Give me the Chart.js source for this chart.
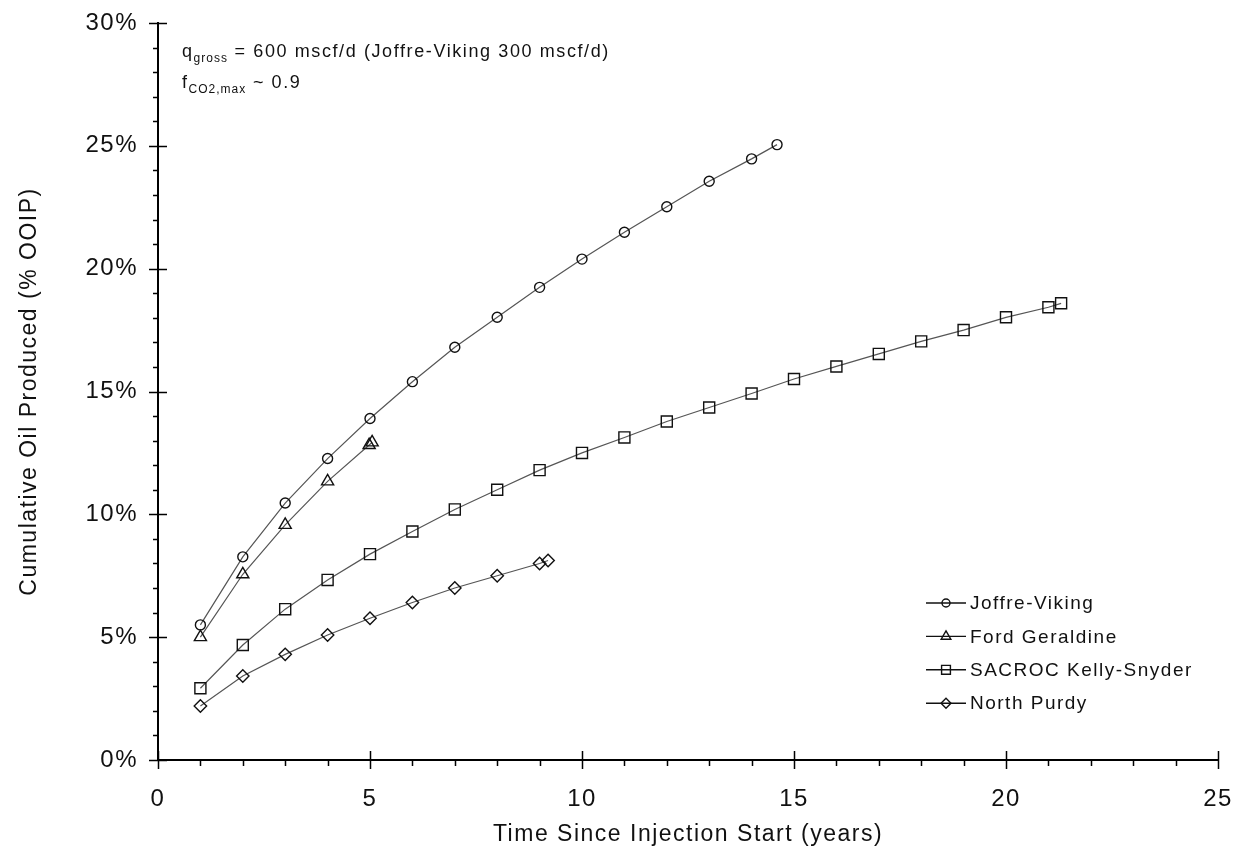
<!DOCTYPE html>
<html>
<head>
<meta charset="utf-8">
<script src="https://cdn.jsdelivr.net/npm/chart.js@4/dist/chart.umd.min.js"></script>
<style>
  html, body { margin: 0; padding: 0; background: #fff; }
  canvas { display: block; }
</style>
</head>
<body>
<canvas id="oilChart" width="1234" height="848"></canvas>
<script>
// years since injection start, cumulative oil produced (% OOIP)
const joffreYears = [1, 2, 3, 4, 5, 6, 7, 8, 9, 10, 11, 12, 13, 14, 14.6];
const joffreOil = [5.5, 8.27, 10.46, 12.27, 13.9, 15.4, 16.8, 18.02, 19.24, 20.39, 21.48, 22.52, 23.56, 24.47, 25.05];

const fordYears = [1, 2, 3, 4, 4.98, 5.05];
const fordOil = [5.0, 7.56, 9.57, 11.34, 12.82, 12.93];

const sacrocYears = [1, 2, 3, 4, 5, 6, 7, 8, 9, 10, 11, 12, 13, 14, 15, 16, 17, 18, 19, 20, 21, 21.3];
const sacrocOil = [2.92, 4.68, 6.14, 7.33, 8.38, 9.3, 10.2, 11.0, 11.8, 12.5, 13.13, 13.78, 14.35, 14.92, 15.51, 16.02, 16.53, 17.04, 17.5, 18.02, 18.43, 18.59];

const purdyYears = [1, 2, 3, 4, 5, 6, 7, 8, 9, 9.2];
const purdyOil = [2.2, 3.42, 4.3, 5.09, 5.77, 6.41, 7.0, 7.5, 8.0, 8.12];

const fieldNames = ['Joffre-Viking', 'Ford Geraldine', 'SACROC Kelly-Snyder', 'North Purdy'];
const fieldMarkers = ['circle', 'triangle', 'rect', 'rectRot'];
const markerSizes = [5, 7, 7.8, 6.2];

const xTicks = [0, 5, 10, 15, 20, 25];
const yTicks = [0, 5, 10, 15, 20, 25, 30];

const FONT = '"Liberation Sans", Arial, sans-serif';

function toPoints(xs, ys) {
  return xs.map((x, i) => ({ x: x, y: ys[i] }));
}

const seriesX = [joffreYears, fordYears, sacrocYears, purdyYears];
const seriesY = [joffreOil, fordOil, sacrocOil, purdyOil];

const datasets = fieldNames.map((name, i) => ({
  label: name,
  data: toPoints(seriesX[i], seriesY[i]),
  borderColor: '#555',
  borderWidth: 1.2,
  pointStyle: fieldMarkers[i],
  pointRadius: markerSizes[i],
  pointBorderColor: '#111',
  pointBorderWidth: 1.4,
  pointBackgroundColor: 'rgba(0,0,0,0)',
  tension: 0,
  fill: false
}));

// wider text spacing, like the original picture
const textSpacing = {
  id: 'textSpacing',
  beforeLayout(chart) { chart.ctx.letterSpacing = '1.5px'; },
  beforeDraw(chart) { chart.ctx.letterSpacing = '1.5px'; }
};

// tick marks: minor every unit, major every 5 crossing the axis
const axisTicks = {
  id: 'axisTicks',
  afterDraw(chart) {
    const ctx = chart.ctx;
    const xs = chart.scales.x, ys = chart.scales.y;
    const left = xs.left, bottom = ys.bottom;
    ctx.save();
    ctx.strokeStyle = '#000';
    ctx.lineWidth = 1.5;
    ctx.beginPath();
    for (let v = ys.min; v <= ys.max; v++) {
      const py = Math.round(ys.getPixelForValue(v)) + 0.5;
      const major = v % 5 === 0;
      ctx.moveTo(left - (major ? 9 : 5), py);
      ctx.lineTo(left + (major ? 9 : 0), py);
    }
    for (let v = xs.min; v <= xs.max; v++) {
      const px = Math.round(xs.getPixelForValue(v)) + 0.5;
      const major = v % 5 === 0;
      ctx.moveTo(px, bottom - (major ? 9 : 0));
      ctx.lineTo(px, bottom + (major ? 9 : 6));
    }
    ctx.stroke();
    ctx.restore();
  }
};

// note text in the upper left
const notes = {
  id: 'notes',
  afterDraw(chart) {
    const ctx = chart.ctx;
    const x0 = chart.chartArea.left + 24;
    ctx.save();
    ctx.fillStyle = '#111';
    ctx.textBaseline = 'alphabetic';
    const run = (parts, x, y) => {
      parts.forEach(p => {
        ctx.font = p[1] + 'px ' + FONT;
        ctx.letterSpacing = p[3] + 'px';
        ctx.fillText(p[0], x, y + p[2]);
        x += ctx.measureText(p[0]).width;
      });
    };
    run([['q', 18, 0, 1.6], ['gross', 12, 5, 1], [' = 600 mscf/d (Joffre-Viking 300 mscf/d)', 18, 0, 1.6]], x0, 57);
    run([['f', 18, 0, 1.6], ['CO2,max', 12, 5, 1], [' ~ 0.9', 18, 0, 1.6]], x0, 88);
    ctx.restore();
  }
};

// legend inside the plot, lower right
const insideLegend = {
  id: 'insideLegend',
  afterDraw(chart) {
    const ctx = chart.ctx;
    const x0 = 926, x1 = 966, y0 = 603, step = 33.4;
    ctx.save();
    chart.data.datasets.forEach((ds, i) => {
      const y = y0 + i * step;
      ctx.strokeStyle = '#111';
      ctx.lineWidth = 1.4;
      ctx.beginPath();
      ctx.moveTo(x0, y);
      ctx.lineTo(x1, y);
      ctx.stroke();
      ctx.fillStyle = 'rgba(0,0,0,0)';
      Chart.helpers.drawPoint(ctx, {
        pointStyle: ds.pointStyle,
        radius: ds.pointRadius * 0.8,
        rotation: 0,
        borderWidth: 1.2
      }, (x0 + x1) / 2, y);
      ctx.fillStyle = '#111';
      ctx.font = '19px ' + FONT;
      ctx.letterSpacing = '1.5px';
      ctx.textBaseline = 'middle';
      ctx.fillText(ds.label, x1 + 4, y + 1);
    });
    ctx.restore();
  }
};

const oilCtx = document.getElementById('oilChart').getContext('2d');
const oilChart = new Chart(oilCtx, {
  type: 'line',
  data: { datasets: datasets },
  plugins: [textSpacing, axisTicks, notes, insideLegend],
  options: {
    responsive: false,
    animation: false,
    devicePixelRatio: 1,
    layout: { padding: { left: 0, top: 23, right: 16, bottom: 0 } },
    plugins: {
      legend: { display: false },
      tooltip: { enabled: false }
    },
    scales: {
      x: {
        type: 'linear',
        min: 0,
        max: 25,
        afterFit(scale) {
          scale.height = 88;
          scale.paddingLeft = 0;
          scale.paddingRight = 0;
        },
        afterBuildTicks(scale) { scale.ticks = xTicks.map(v => ({ value: v })); },
        grid: { display: true, drawOnChartArea: false, drawTicks: false },
        border: { display: true, color: '#000', width: 2 },
        ticks: {
          color: '#111',
          padding: 25,
          maxRotation: 0,
          font: { family: FONT, size: 24 }
        },
        title: {
          display: true,
          text: 'Time Since Injection Start (years)',
          color: '#111',
          padding: { top: 0, bottom: 0 },
          font: { family: FONT, size: 23 }
        }
      },
      y: {
        type: 'linear',
        min: 0,
        max: 30,
        afterFit(scale) {
          scale.width = 158;
          scale.paddingTop = 0;
          scale.paddingBottom = 0;
        },
        afterBuildTicks(scale) { scale.ticks = yTicks.map(v => ({ value: v })); },
        grid: { display: true, drawOnChartArea: false, drawTicks: false },
        border: { display: true, color: '#000', width: 2 },
        ticks: {
          color: '#111',
          padding: 20,
          callback: v => v + '%',
          font: { family: FONT, size: 24 }
        },
        title: {
          display: true,
          text: 'Cumulative Oil Produced (% OOIP)',
          color: '#111',
          padding: { top: 16, bottom: 0 },
          font: { family: FONT, size: 23 }
        }
      }
    }
  }
});
</script>
</body>
</html>
